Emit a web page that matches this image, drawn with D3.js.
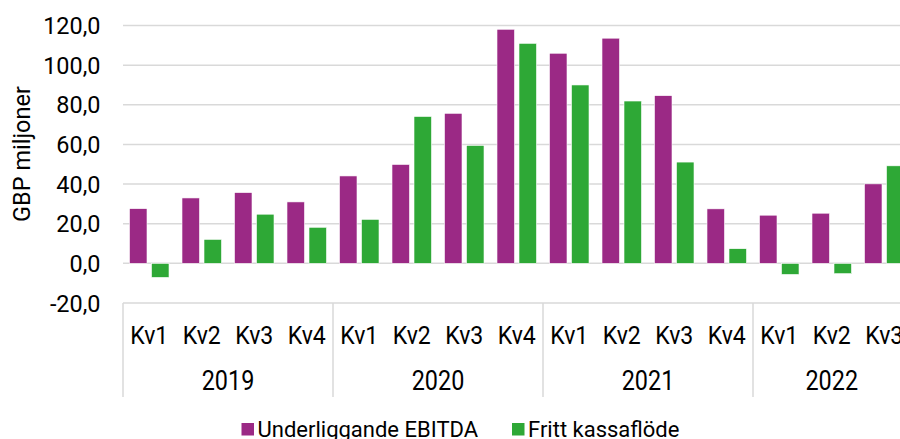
<!DOCTYPE html>
<html><head><meta charset="utf-8">
<script src="https://cdn.jsdelivr.net/npm/d3@7"></script>
<style>html,body{margin:0;padding:0;background:#fff;overflow:hidden}svg{display:block}</style>
</head><body>
<svg id="c" width="900" height="439"></svg>
<script>
const years = ["2019","2020","2021","2022"];
const quarters = [
  ["Kv1","Kv2","Kv3","Kv4"],
  ["Kv1","Kv2","Kv3","Kv4"],
  ["Kv1","Kv2","Kv3","Kv4"],
  ["Kv1","Kv2","Kv3"]
];
const seriesNames = ["Underliggande EBITDA","Fritt kassaflöde"];
const ebitda = [27.6,33.0,35.7,31.0, 44.1,49.9,75.7,118.1, 106.0,113.6,84.6,27.5, 24.3,25.3,40.1];
const cashflow = [-7.1,12.1,24.8,18.2, 22.2,74.1,59.5,111.0, 90.0,81.9,51.1,7.4, -5.6,-5.2,49.2];
const yTicks = [-20,0,20,40,60,80,100,120];
const colors = ["#9B2985","#2EA836"];

const cats = [];
years.forEach((y,i)=>quarters[i].forEach(q=>cats.push({year:y,q:q,key:y+"-"+q})));
const font = "Roboto, 'Noto Sans', sans-serif";
const svg = d3.select("#c");

const x = d3.scaleBand().domain(cats.map(d=>d.key)).range([123, 910.5]).paddingInner(0).paddingOuter(0);
const xs = d3.scaleBand().domain([0,1]).range([0, x.bandwidth()]).paddingInner(0.2045).paddingOuter(0.295);
const y = d3.scaleLinear().domain([-20,120]).range([303, 25.5]);

// gridlines
svg.append("g").selectAll("line").data(yTicks).join("line")
  .attr("x1",123).attr("x2",912).attr("y1",d=>y(d)).attr("y2",d=>y(d))
  .attr("stroke","#d9d9d9").attr("stroke-width",1.5);

// y tick labels
const fmt = v => d3.format(".1f")(v).replace(".",",").replace("−","-");
svg.append("g").selectAll("text").data(yTicks).join("text")
  .attr("transform",d=>`translate(100.5,${y(d)+8.7}) scale(0.965,1)`)
  .attr("text-anchor","end").attr("font-family",font).attr("font-size",24.3)
  .attr("fill","#000").text(fmt);

// y title
svg.append("text").attr("transform","translate(30,154) rotate(-90)")
  .attr("text-anchor","middle").attr("font-family",font).attr("font-size",23.5)
  .attr("fill","#000").text("GBP miljoner");

// bars
const seriesData = [ebitda, cashflow];
seriesData.forEach((vals,si)=>{
  svg.append("g").selectAll("rect").data(cats).join("rect")
    .attr("x",(d)=>x(d.key)+xs(si))
    .attr("width",xs.bandwidth())
    .attr("y",(d,i)=>y(Math.max(0,vals[i])))
    .attr("height",(d,i)=>Math.abs(y(vals[i])-y(0)))
    .attr("fill",colors[si]).attr("stroke","#fff").attr("stroke-width",0.6);
});

// category axis: dividers
let idx = 0;
const bounds = [];
years.forEach((yr,i)=>{
  const first = cats[idx].key, last = cats[idx+quarters[i].length-1].key;
  bounds.push({year:yr, x0:x(first), x1:x(last)+x.bandwidth()});
  idx += quarters[i].length;
});
svg.append("g").selectAll("line").data(bounds).join("line")
  .attr("x1",d=>d.x0).attr("x2",d=>d.x0).attr("y1",303).attr("y2",397)
  .attr("stroke","#d9d9d9").attr("stroke-width",1.5);

svg.append("g").selectAll("text").data(cats).join("text")
  .attr("transform",d=>`translate(${x(d.key)+x.bandwidth()/2},344) scale(0.87,1)`)
  .attr("text-anchor","middle").attr("font-family",font).attr("font-size",26.5)
  .attr("fill","#000").text(d=>d.q);

svg.append("g").selectAll("text").data(bounds).join("text")
  .attr("transform",d=>`translate(${(d.x0+d.x1)/2},390) scale(0.85,1)`)
  .attr("text-anchor","middle").attr("font-family",font).attr("font-size",27.5)
  .attr("fill","#000").text(d=>d.year);

// legend
const legendX = [241.5, 512];
seriesNames.forEach((n,i)=>{
  svg.append("rect").attr("x",legendX[i]).attr("y",423).attr("width",12.5).attr("height",12.5).attr("fill",colors[i]);
  svg.append("text").attr("x",legendX[i]+16).attr("y",437).attr("font-family",font).attr("font-size",22)
    .attr("fill","#000").text(n);
});
</script>
</body></html>
